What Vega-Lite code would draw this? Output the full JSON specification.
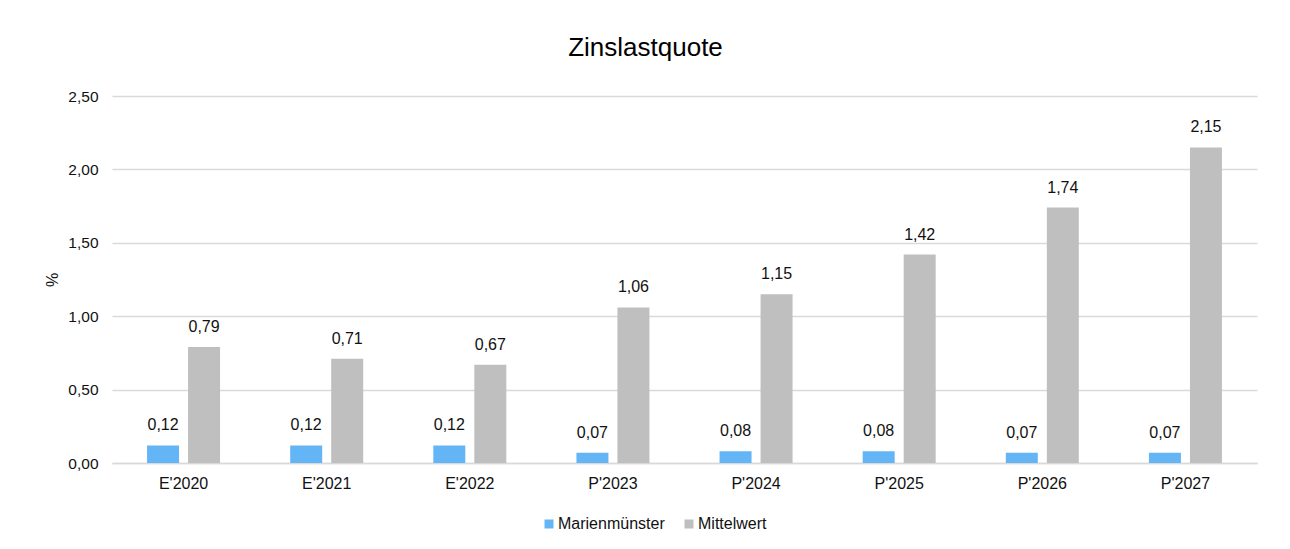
{
  "$schema": "https://vega.github.io/schema/vega-lite/v6.json",
  "width": 1145,
  "height": 367,
  "autosize": {"type": "none"},
  "padding": {"left": 112, "top": 96, "right": 33, "bottom": 86},
  "background": "white",
  "config": {
    "locale": {"number": {"decimal": ",", "thousands": ".", "grouping": [3], "currency": ["", " €"]}},
    "view": {"stroke": null},
    "font": "Liberation Sans"
  },
  "title": {
    "text": "Zinslastquote",
    "fontSize": 26,
    "fontWeight": "normal",
    "font": "Liberation Sans",
    "color": "#000000",
    "offset": 28,
    "dx": -39
  },
  "data": {
    "values": [
      {"jahr": "E'2020", "serie": "Marienmünster", "wert": 0.12},
      {"jahr": "E'2020", "serie": "Mittelwert", "wert": 0.79},
      {"jahr": "E'2021", "serie": "Marienmünster", "wert": 0.12},
      {"jahr": "E'2021", "serie": "Mittelwert", "wert": 0.71},
      {"jahr": "E'2022", "serie": "Marienmünster", "wert": 0.12},
      {"jahr": "E'2022", "serie": "Mittelwert", "wert": 0.67},
      {"jahr": "P'2023", "serie": "Marienmünster", "wert": 0.07},
      {"jahr": "P'2023", "serie": "Mittelwert", "wert": 1.06},
      {"jahr": "P'2024", "serie": "Marienmünster", "wert": 0.08},
      {"jahr": "P'2024", "serie": "Mittelwert", "wert": 1.15},
      {"jahr": "P'2025", "serie": "Marienmünster", "wert": 0.08},
      {"jahr": "P'2025", "serie": "Mittelwert", "wert": 1.42},
      {"jahr": "P'2026", "serie": "Marienmünster", "wert": 0.07},
      {"jahr": "P'2026", "serie": "Mittelwert", "wert": 1.74},
      {"jahr": "P'2027", "serie": "Marienmünster", "wert": 0.07},
      {"jahr": "P'2027", "serie": "Mittelwert", "wert": 2.15}
    ]
  },
  "encoding": {
    "x": {
      "field": "jahr",
      "type": "nominal",
      "sort": null,
      "scale": {"paddingInner": 0.49, "paddingOuter": 0.245},
      "axis": {
        "title": null,
        "labelAngle": 0,
        "labelFontSize": 16,
        "labelColor": "#111111",
        "labelPadding": 12,
        "ticks": false,
        "domainColor": "#D9D9D9",
        "domainWidth": 1.5,
        "grid": false
      }
    },
    "xOffset": {
      "field": "serie",
      "type": "nominal",
      "scale": {"paddingInner": 0.22, "paddingOuter": 0}
    },
    "y": {
      "field": "wert",
      "type": "quantitative",
      "scale": {"domain": [0, 2.5]},
      "axis": {
        "title": "%",
        "titleFontSize": 16,
        "titleFontWeight": "normal",
        "titleColor": "#111111",
        "titlePadding": 7,
        "values": [0, 0.5, 1, 1.5, 2, 2.5],
        "format": ".2f",
        "labelFontSize": 15.5,
        "labelColor": "#111111",
        "labelPadding": 14,
        "ticks": false,
        "domain": false,
        "gridColor": "#D9D9D9",
        "gridWidth": 1.5
      }
    }
  },
  "layer": [
    {
      "mark": {"type": "bar"},
      "encoding": {
        "color": {
          "field": "serie",
          "type": "nominal",
          "scale": {"domain": ["Marienmünster", "Mittelwert"], "range": ["#64B5F6", "#BFBFBF"]},
          "legend": {
            "title": null,
            "orient": "none",
            "direction": "horizontal",
            "legendX": 429,
            "legendY": 420,
            "symbolType": "square",
            "symbolSize": 81,
            "symbolOpacity": 1,
            "labelFontSize": 16,
            "labelColor": "#111111",
            "labelOffset": 1,
            "columnPadding": 16
          }
        }
      }
    },
    {
      "mark": {"type": "text", "baseline": "alphabetic", "dy": -15, "fontSize": 16, "color": "#111111"},
      "encoding": {
        "text": {"field": "wert", "type": "quantitative", "format": ".2f"}
      }
    }
  ]
}
